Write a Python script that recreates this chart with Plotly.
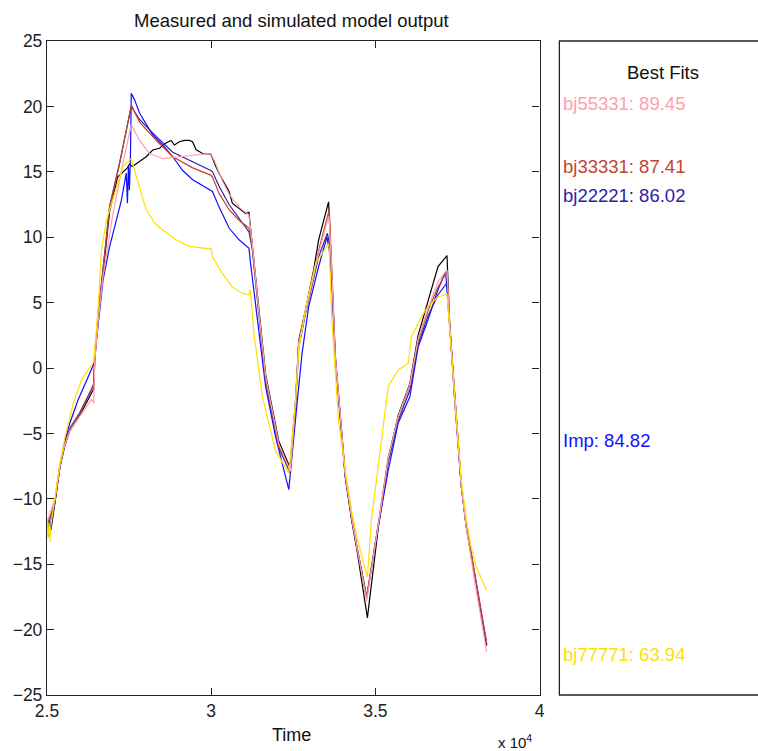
import plotly.graph_objects as go

# ---------------- data (time in seconds, output values) ----------------
measured_t = [25000, 25060, 25120, 25242, 25394, 25545, 25697, 26000, 26355, 26424, 26455, 26555, 26706,
              26909, 27150, 27450, 27515, 27600, 28021, 28221, 28424, 28627, 28779, 28879, 29030, 29182,
              29333, 29433, 29536, 29736, 29991, 30142, 30342, 30545, 30645, 30848, 31051, 31151, 31250,
              31455, 31660, 32060, 32300, 32400, 32570, 32667, 32870, 33121, 33273, 33576, 33597, 33676,
              33778, 34081, 34282, 34433, 34600, 34758, 35090, 35394, 35697, 36051, 36303, 36606, 36909,
              37182, 37264, 37415, 37615, 37767, 38021, 38373, 38390]
measured_y = [-12.2, -11.6, -12.4, -10.3, -7.6, -5.9, -4.8, -3.6, -1.9, -1.6, 0.6, 3.5, 7.2,
              12.0, 14.6, 15.3, 15.6, 15.4, 16.15, 16.67, 16.8, 17.2, 17.4, 17.05, 17.3, 17.4,
              17.4, 17.3, 16.7, 16.4, 16.35, 15.4, 14.4, 13.5, 12.6, 12.2, 11.8, 11.9, 9.5,
              4.5, -0.5, -5.6, -7.0, -7.6, -2.5, 2.1, 4.4, 7.5, 9.8, 12.7, 11.5, 7.3,
              0.8, -8.3, -11.7, -13.8, -16.5, -19.1, -12.2, -7.0, -3.6, -1.2, 2.5, 5.2, 7.75,
              8.6, 3.4, -2.4, -9.0, -12.1, -15.9, -21.0, -21.2]

bj55331_t = [25000, 25242, 25394, 25545, 25697, 26000, 26355, 26424, 26455, 26555, 26706, 27010, 27300,
             27567, 27818, 28121, 28524, 29030, 29636, 29990, 30142, 30342, 30545, 30848, 31151, 31250,
             31455, 31660, 32060, 32410, 32570, 32667, 32870, 33121, 33273, 33576, 33597, 33676, 33778,
             34081, 34282, 34433, 34736, 35090, 35394, 35697, 36051, 36303, 36606, 36909, 37182, 37264,
             37415, 37615, 37767, 38021, 38390]
bj55331_y = [-11.8, -10.0, -7.4, -5.8, -4.8, -3.7, -2.4, -2.7, 0.5, 3.5, 7.0, 11.8, 15.5,
             18.6, 17.4, 16.4, 16.0, 16.15, 16.3, 16.4, 15.6, 14.3, 13.3, 12.3, 11.7, 9.5,
             4.3, -0.7, -5.8, -7.9, -2.6, 1.9, 4.2, 7.0, 8.8, 11.6, 11.3, 7.3, 1.0,
             -8.1, -11.5, -13.6, -17.8, -12.0, -6.9, -3.7, -1.3, 2.2, 4.6, 6.6, 7.5, 3.3,
             -2.4, -9.0, -12.2, -16.2, -21.7]

bj33331_t = [25000, 25242, 25394, 25545, 25697, 26000, 26355, 26424, 26455, 26555, 26706, 26909, 27212,
             27567, 27818, 28324, 28830, 29436, 29990, 30040, 30242, 30545, 30848, 31151, 31250, 31455,
             31660, 32060, 32410, 32570, 32667, 32870, 33121, 33273, 33597, 33676, 33778, 34081, 34282,
             34433, 34736, 35090, 35394, 35697, 36051, 36303, 36606, 36909, 37182, 37264, 37415, 37615,
             37767, 38021, 38373, 38390]
bj33331_y = [-12.0, -10.3, -7.5, -5.9, -4.7, -3.5, -1.7, -1.3, 0.8, 3.9, 7.5, 12.3, 15.6,
             20.1, 18.8, 17.4, 16.15, 15.3, 14.75, 14.6, 13.35, 12.1, 11.3, 10.7, 9.3, 4.2,
             -0.9, -6.0, -7.8, -2.7, 1.9, 4.3, 7.0, 9.0, 12.1, 7.5, 1.1, -8.05, -11.4,
             -13.5, -17.5, -11.9, -6.8, -3.7, -1.4, 2.1, 4.4, 6.2, 7.36, 3.4, -2.2, -8.8,
             -11.9, -15.7, -20.8, -21.0]

bj22221_t = [25000, 25242, 25394, 25545, 25697, 26000, 26355, 26424, 26455, 26555, 26706, 26909, 27212,
             27567, 27818, 28324, 28830, 29436, 29990, 30040, 30242, 30545, 30848, 31151, 31250, 31455,
             31660, 32060, 32400, 32570, 32667, 32870, 33121, 33273, 33540, 33600, 33676, 33778, 34081,
             34282, 34433, 34736, 35090, 35394, 35697, 36051, 36303, 36606, 36909, 37182, 37264, 37415,
             37615, 37767, 38021, 38390]
bj22221_y = [-12.3, -10.2, -7.4, -5.8, -4.6, -3.4, -1.6, -1.2, 0.9, 4.0, 7.6, 12.4, 15.7,
             20.0, 19.0, 17.7, 16.5, 15.8, 15.1, 15.0, 13.9, 12.5, 11.45, 10.4, 9.1, 4.0,
             -1.0, -6.1, -8.0, -2.9, 1.6, 4.1, 6.7, 8.5, 10.3, 9.5, 7.0, 0.9, -8.1,
             -11.5, -13.6, -17.5, -12.0, -7.2, -4.0, -1.7, 1.8, 4.0, 5.6, 6.5, 3.2, -2.3,
             -8.9, -12.0, -15.8, -21.1]

imp_t = [25000, 25030, 25060, 25090, 25242, 25394, 25545, 25697, 25945, 26355, 26424, 26500, 26706,
         26909, 27263, 27415, 27450, 27480, 27510, 27540, 27567, 27667, 27818, 28221, 28524, 28830,
         29133, 29436, 29990, 30040, 30242, 30545, 30848, 31151, 31200, 31400, 31657, 31960, 32364,
         32566, 32767, 32970, 33273, 33524, 33597, 33676, 33778, 34081, 34282, 34433, 34736, 35090,
         35394, 35697, 36051, 36303, 36606, 36909, 37140, 37264, 37415, 37615, 37767, 38021, 38390]
imp_y = [-12.5, -11.8, -12.9, -12.2, -10.3, -7.4, -5.6, -4.2, -2.45, -0.15, 0.3, 2.0, 6.7,
         9.3, 12.8, 14.9, 12.6, 15.5, 13.6, 16.0, 21.0, 20.5, 19.5, 17.8, 17.05, 16.15,
         15.1, 14.4, 13.6, 13.5, 12.3, 10.7, 9.8, 9.15, 8.0, 3.7, -1.4, -5.25, -9.3,
         -4.0, 1.1, 4.7, 7.75, 10.0, 9.0, 6.5, 0.8, -8.2, -11.6, -13.7, -17.6, -12.1,
         -7.8, -4.2, -2.2, 1.6, 3.7, 6.0, 7.35, 3.2, -2.3, -8.9, -12.1, -15.9, -21.2]

bj77771_t = [25000, 25030, 25060, 25090, 25120, 25242, 25394, 25545, 25800, 26051, 26355, 26424, 26455,
             26555, 26660, 26809, 27312, 27567, 27667, 27818, 28021, 28273, 28524, 28930, 29333, 29990,
             30000, 30040, 30342, 30645, 30950, 31151, 31190, 31303, 31560, 31960, 32364, 32570, 32667,
             32870, 33182, 33576, 33600, 33676, 33778, 33880, 34081, 34282, 34433, 34640, 34758, 34880,
             35090, 35191, 35394, 35697, 36000, 36100, 36400, 36606, 36909, 37182, 37264, 37415, 37615,
             37767, 37900, 38070, 38390]
bj77771_y = [-11.5, -13.0, -11.8, -13.3, -12.0, -10.0, -7.3, -5.3, -2.7, -0.9, 0.23, 0.5, 1.5,
             4.5, 9.0, 11.3, 15.4, 16.0, 15.1, 13.9, 12.1, 11.1, 10.55, 9.8, 9.3, 9.1,
             9.2, 8.5, 7.24, 6.2, 5.7, 5.6, 6.0, 2.65, -2.2, -6.3, -8.05, -2.5, 1.5,
             4.5, 8.0, 9.5, 9.0, 3.7, -0.5, -4.0, -7.8, -11.0, -12.9, -14.9, -16.0, -11.6,
             -7.3, -5.25, -1.4, -0.15, 0.35, 2.4, 3.9, 4.7, 5.45, 5.6, 3.0, -2.0, -8.5,
             -11.5, -13.5, -15.2, -17.0]

x_tick_vals = [25000, 30000, 35000, 40000]
x_tick_text = ["2.5", "3", "3.5", "4"]
y_tick_vals = [-25, -20, -15, -10, -5, 0, 5, 10, 15, 20, 25]

fit_labels = ["bj55331: 89.45", "bj33331: 87.41", "bj22221: 86.02", "Imp: 84.82", "bj77771: 63.94"]

# ---------------- styling ----------------
FONT = "Liberation Sans, Arial, Helvetica, sans-serif"
C_BLACK = "#000000"
C_PINK = "#FF9EAE"
C_BROWN = "#C0442E"
C_DBLUE = "#2B22A8"
C_BLUE = "#1010FF"
C_YELLOW = "#FFE000"

W, H = 758, 751
ML, MR, MT, MB = 47, 0, 41, 56
PW = W - ML - MR
PH = H - MT - MB
ax_right_px = 543
panel_left_px = 563


def px_x(p):
    return (p - ML) / PW


def px_y(p):
    return (H - MB - p) / PH


fig = go.Figure()
series = [
    (measured_t, measured_y, C_BLACK, "Measured"),
    (imp_t, imp_y, C_BLUE, "Imp"),
    (bj22221_t, bj22221_y, C_DBLUE, "bj22221"),
    (bj33331_t, bj33331_y, C_BROWN, "bj33331"),
    (bj55331_t, bj55331_y, C_PINK, "bj55331"),
    (bj77771_t, bj77771_y, C_YELLOW, "bj77771"),
]
for t, y, c, n in series:
    fig.add_trace(go.Scatter(x=t, y=y, mode="lines", name=n,
                             line=dict(color=c, width=1.2), showlegend=False))

axis_common = dict(showgrid=False, zeroline=False, showline=True, linecolor="#222222",
                   linewidth=1.3, mirror="ticks", ticks="inside", ticklen=7,
                   tickcolor="#222222", tickwidth=1.3,
                   tickfont=dict(family=FONT, size=17.5, color="#222222"))

fig.update_layout(
    width=W, height=H,
    margin=dict(l=ML, r=MR, t=MT, b=MB),
    paper_bgcolor="white", plot_bgcolor="white",
    xaxis=dict(range=[25000, 40000], domain=[0, px_x(ax_right_px)],
               tickvals=x_tick_vals, ticktext=x_tick_text, **axis_common),
    yaxis=dict(range=[-25, 25], tickvals=y_tick_vals, **axis_common),
)

# right-hand "Best Fits" panel
fig.add_shape(type="rect", xref="paper", yref="paper",
              x0=px_x(panel_left_px), x1=1.05, y0=0, y1=1,
              line=dict(color="#222222", width=1.3), fillcolor="rgba(0,0,0,0)")

ann = []
ann.append(dict(text="Measured and simulated model output", x=px_x(293), y=px_y(20),
                xanchor="center", yanchor="middle", font=dict(size=18.5, color="#111111")))
ann.append(dict(text="Time", x=px_x(293), y=px_y(735), xanchor="center", yanchor="middle",
                font=dict(size=18, color="#111111")))
ann.append(dict(text="x 10<sup>4</sup>", x=px_x(499), y=px_y(741), xanchor="left", yanchor="middle",
                font=dict(size=15, color="#111111")))
ann.append(dict(text="Best Fits", x=px_x(667), y=px_y(73), xanchor="center", yanchor="middle",
                font=dict(size=18.5, color="#111111")))
label_colors = [C_PINK, C_BROWN, C_DBLUE, C_BLUE, C_YELLOW]
label_py = [104, 166, 196, 440, 654]
for txt, col, py in zip(fit_labels, label_colors, label_py):
    ann.append(dict(text=txt, x=px_x(565), y=px_y(py), xanchor="left", yanchor="middle",
                    font=dict(size=18.5, color=col)))

for a in ann:
    a.update(xref="paper", yref="paper", showarrow=False)
    a["font"]["family"] = FONT
fig.update_layout(annotations=ann)

fig.write_html("out.html", config={"displayModeBar": False},
               post_script="document.body.style.margin='0';document.body.style.overflow='hidden';")
